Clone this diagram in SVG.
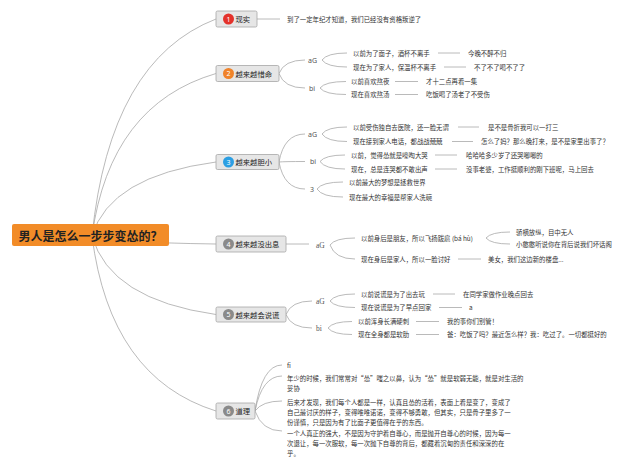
<svg xmlns="http://www.w3.org/2000/svg" width="640" height="471" viewBox="0 0 640 471">
<style>
.c{fill:none;stroke:#a8a8a8;stroke-width:0.8}
.t{font-family:"Noto Sans CJK SC","Noto Sans",sans-serif;font-size:6.4px;fill:#333;dominant-baseline:central}
.s{font-family:"Noto Sans",sans-serif;font-size:7px;fill:#555;dominant-baseline:central}
.sr{font-family:"Liberation Serif",serif;font-size:7.5px;fill:#555;dominant-baseline:central}
.b{fill:#e6e6e6;stroke:#a6a6a6;stroke-width:0.8}
.bt{font-family:"Noto Sans CJK SC","Noto Sans",sans-serif;font-size:7.3px;fill:#222;dominant-baseline:central}
.n{font-family:"Noto Sans","Liberation Sans",sans-serif;font-size:7px;fill:#fff;text-anchor:middle;dominant-baseline:central}
</style>
<rect width="640" height="471" fill="#fff"/>
<g id="connectors">
<path class="c" d="M92,236 Q110,60 216,19"/>
<path class="c" d="M92,236 Q110,104.5 216,73.5"/>
<path class="c" d="M92,236 Q110,176 216,162"/>
<path class="c" d="M92,236 Q110,242.5 216,244"/>
<path class="c" d="M92,236 Q110,299.6 216,314.5"/>
<path class="c" d="M92,236 Q110,377.8 216,411"/>
<path class="c" d="M257,19 H280"/>
<path class="c" d="M279,73.5 Q284,60 305,60 M279,73.5 Q284,88 305,88"/>
<path class="c" d="M322,60 Q327,53 347,53 M322,60 Q327,67 347,67"/>
<path class="c" d="M320,88 Q325,81.5 346,81.5 M320,88 Q325,94.5 346,94.5"/>
<path class="c" d="M438,53H460 M444,67H466 M395,81.5H418 M395,94.5H418"/>
<path class="c" d="M279,162 Q284,134 305,134 M279,162 Q284,161.5 305,161.5 M279,162 Q284,189 305,189"/>
<path class="c" d="M322,134 Q327,127 347,127 M322,134 Q327,141.5 347,141.5"/>
<path class="c" d="M320,161.5 Q325,155 345,155 M320,161.5 Q325,169 345,169"/>
<path class="c" d="M317,189 Q322,182 343,182 M317,189 Q322,197 343,197"/>
<path class="c" d="M458,127H479 M452,141.5H473 M435,155H457 M435,169H457"/>
<path class="c" d="M286,244H309"/>
<path class="c" d="M330,245 Q335,238 355,238 M330,245 Q335,259 355,259"/>
<path class="c" d="M486,238 Q491,232 510,232 M486,238 Q491,244 510,244"/>
<path class="c" d="M458,259H481"/>
<path class="c" d="M286,314.5 Q291,301 312,301 M286,314.5 Q291,328 312,328"/>
<path class="c" d="M330,301 Q335,294 355,294 M330,301 Q335,307.5 355,307.5"/>
<path class="c" d="M328,328 Q333,321.5 352,321.5 M328,328 Q333,334.5 352,334.5"/>
<path class="c" d="M433,294H455 M439,307.5H462 M416,321.5H439 M416,334.5H439"/>
<path class="c" d="M255,411 Q262,365 282,365 M255,411 Q262,376 282,376 M255,411 Q262,401 282,401 M255,411 Q262,431 282,431"/>
</g>
<g id="root">
<rect x="12" y="224" width="157" height="22" rx="2" fill="#f28c28"/>
<text x="90.5" y="235.5" font-family="Noto Sans CJK SC, Noto Sans, sans-serif" font-size="12" font-weight="bold" fill="#222" text-anchor="middle" dominant-baseline="central">男人是怎么一步步变怂的？</text>
</g>
<g id="b1">
<rect class="b" x="216" y="11" width="41" height="16" rx="1.5"/>
<circle cx="228.5" cy="19" r="5.5" fill="#e4322b"/>
<text class="n" x="228.5" y="19">1</text>
<text class="bt" x="235.5" y="19">现实</text>
<text class="t" x="287" y="19">到了一定年纪才知道，我们已经没有资格叛逆了</text>
</g>
<g id="b2">
<rect class="b" x="216" y="65.5" width="63" height="16" rx="1.5"/>
<circle cx="228.5" cy="73.5" r="5.5" fill="#f0832a"/>
<text class="n" x="228.5" y="73.5">2</text>
<text class="bt" x="235.5" y="73.5">越来越惜命</text>
<text class="s" x="308" y="60">aG</text>
<text class="s" x="309" y="88">bi</text>
<text class="t" x="353" y="53">以前为了面子，酒杯不离手</text>
<text class="t" x="468" y="53">今晚不醉不归</text>
<text class="t" x="353" y="67">现在为了家人，保温杯不离手</text>
<text class="t" x="474" y="67">不了不了喝不了了</text>
<text class="t" x="351" y="81.5">以前喜欢熬夜</text>
<text class="t" x="426" y="81.5">才十二点再看一集</text>
<text class="t" x="351" y="94.5">现在喜欢熬汤</text>
<text class="t" x="426" y="94.5">吃饭喝了汤老了不受伤</text>
</g>
<g id="b3">
<rect class="b" x="216" y="154.5" width="63" height="15" rx="1.5"/>
<circle cx="228.5" cy="162" r="5.5" fill="#2c9fe3"/>
<text class="n" x="228.5" y="162">3</text>
<text class="bt" x="235.5" y="162">越来越胆小</text>
<text class="s" x="308" y="134">aG</text>
<text class="s" x="310" y="161.5">bi</text>
<text class="s" x="310" y="189">3</text>
<text class="t" x="353" y="127">以前受伤独自去医院，还一脸无谓</text>
<text class="t" x="488" y="127">是不是骨折我可以一打三</text>
<text class="t" x="353" y="141.5">现在接到家人电话，都战战兢兢</text>
<text class="t" x="481" y="141.5">怎么了妈？那么晚打来，是不是家里出事了？</text>
<text class="t" x="351" y="155">以前，觉得怂就是嚎啕大哭</text>
<text class="t" x="466" y="155">哈哈哈多少岁了还哭唧唧的</text>
<text class="t" x="351" y="169">现在，总是连哭都不敢出声</text>
<text class="t" x="466" y="169">没事老婆，工作挺顺利的刚下班呢，马上回去</text>
<text class="t" x="349" y="182">以前最大的梦想是拯救世界</text>
<text class="t" x="349" y="197">现在最大的幸福是帮家人洗碗</text>
</g>
<g id="b4">
<rect class="b" x="216" y="236" width="70" height="16" rx="1.5"/>
<circle cx="228.5" cy="244" r="5.5" fill="#8a8a8a"/>
<text class="n" x="228.5" y="244">4</text>
<text class="bt" x="235.5" y="244">越来越没出息</text>
<text class="sr" x="316" y="245">aG</text>
<text class="t" x="361" y="238">以前身后是朋友，所以飞扬跋扈 (bá hù)</text>
<text class="t" x="516" y="232">骄横放纵，目中无人</text>
<text class="t" x="516" y="244">小憨憨听说你在背后说我们坏话阁</text>
<text class="t" x="361" y="259">现在身后是家人，所以一脸讨好</text>
<text class="t" x="488" y="259">美女，我们这边新的楼盘...</text>
</g>
<g id="b5">
<rect class="b" x="216" y="307" width="70" height="15" rx="1.5"/>
<circle cx="228.5" cy="314.5" r="5.5" fill="#8a8a8a"/>
<text class="n" x="228.5" y="314.5">5</text>
<text class="bt" x="235.5" y="314.5">越来越会说谎</text>
<text class="sr" x="316" y="301">aG</text>
<text class="sr" x="316" y="328">bi</text>
<text class="t" x="361" y="294">以前说谎是为了出去玩</text>
<text class="t" x="463" y="294">在同学家做作业晚点回去</text>
<text class="t" x="361" y="307.5">现在说谎是为了早点回家</text>
<text class="t" x="469" y="307.5">a</text>
<text class="t" x="358" y="321.5">以前浑身长满硬刺</text>
<text class="t" x="447" y="321.5">我的事你们别管！</text>
<text class="t" x="358" y="334.5">现在全身都是软肋</text>
<text class="t" x="447" y="334.5">爸：吃饭了吗？最近怎么样？我：吃过了。一切都挺好的</text>
</g>
<g id="b6">
<rect class="b" x="216" y="403" width="39" height="16" rx="1.5"/>
<circle cx="228.5" cy="411" r="5.5" fill="#8a8a8a"/>
<text class="n" x="228.5" y="411">6</text>
<text class="bt" x="235.5" y="411">道理</text>
<text class="t" x="287" y="365.5">fi</text>
<text class="t" x="287" y="378.3">年少的时候，我们常常对“怂”嗤之以鼻，认为“怂”就是软弱无能，就是对生活的</text>
<text class="t" x="287" y="388.3">妥协</text>
<text class="t" x="287" y="402.3">后来才发现，我们每个人都是一样，认真且怂的活着，表面上看是变了，变成了</text>
<text class="t" x="287" y="412.5">自己最讨厌的样子，变得唯唯诺诺，变得不够勇敢，但其实，只是骨子里多了一</text>
<text class="t" x="287" y="422">份谨慎，只是因为有了比面子更值得在乎的东西。</text>
<text class="t" x="287" y="433.3">一个人真正的强大，不是因为守护着自尊心，而是抛开自尊心的时候，因为每一</text>
<text class="t" x="287" y="443.3">次退让，每一次服软，每一次抛下自尊的背后，都藏着沉甸的责任和深深的在</text>
<text class="t" x="287" y="453.3">乎。</text>
</g>
</svg>
